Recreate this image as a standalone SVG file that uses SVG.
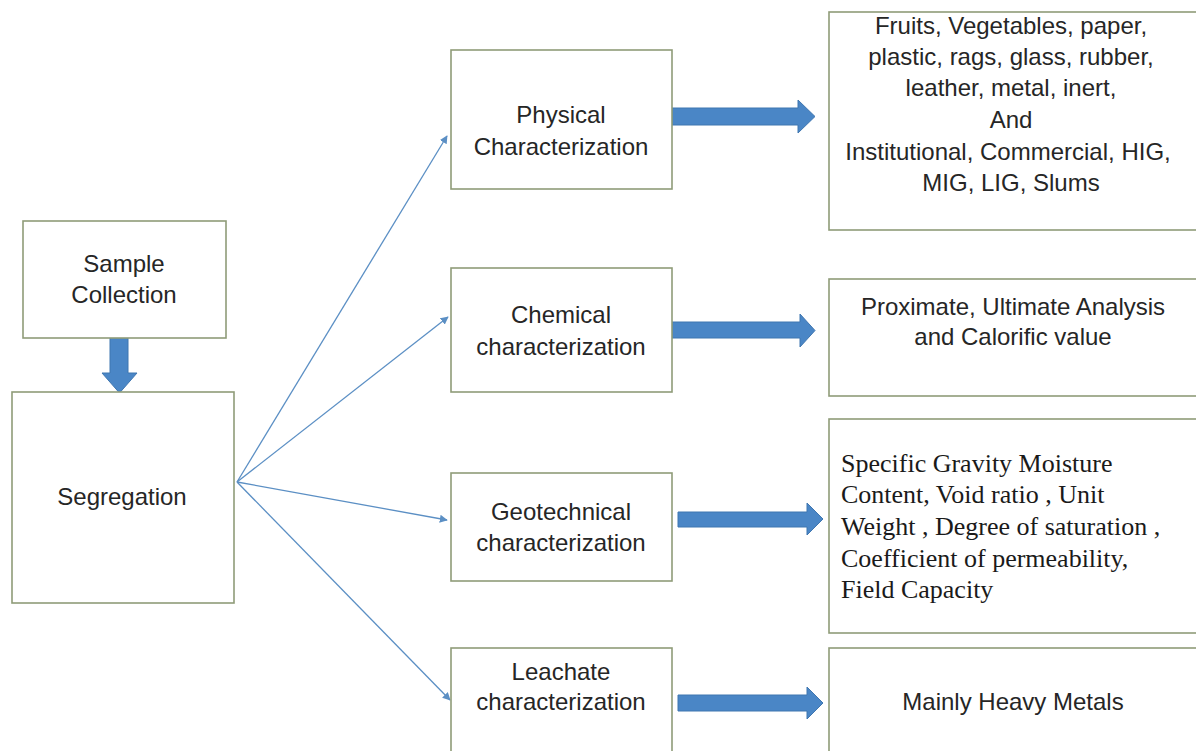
<svg xmlns="http://www.w3.org/2000/svg" width="1196" height="751" viewBox="0 0 1196 751">
<style>
.box{fill:#ffffff;stroke:#8f9c78;stroke-width:1.6}
.t{font-family:"Liberation Sans",Arial,sans-serif;font-size:24px;fill:#262626;text-anchor:middle}
.ts{font-family:"Liberation Serif","Times New Roman",serif;font-size:26px;fill:#1a1a1a}
.blk{fill:#4a86c6;stroke:#3f76b0;stroke-width:1}
.con{stroke:#5b8fc4;stroke-width:1.3;fill:none;marker-end:url(#ah)}
</style>
<defs>
<marker id="ah" viewBox="0 0 10 10" refX="9" refY="5" markerWidth="8" markerHeight="8" markerUnits="userSpaceOnUse" orient="auto">
<path d="M0,0 L10,5 L0,10 z" fill="#5b8fc4"/>
</marker>
</defs>
<rect width="1196" height="751" fill="#ffffff"/>
<g id="connectors">
<line class="con" x1="237" y1="482" x2="447" y2="136"/>
<line class="con" x1="237" y1="482" x2="448" y2="317"/>
<line class="con" x1="237" y1="482" x2="447" y2="520"/>
<line class="con" x1="237" y1="482" x2="450" y2="700"/>
<polygon class="blk" points="110,314 128,314 128,373 137,373 119.5,393 102,373 110,373"/>
<polygon class="blk" points="672,108 798,108 798,100 815,116.5 798,133 798,125 672,125"/>
<polygon class="blk" points="672,322 800,322 800,314 815,330.5 800,347 800,338 672,338"/>
<polygon class="blk" points="678,512 807,512 807,503 823,519 807,535 807,527 678,527"/>
<polygon class="blk" points="678,695 807,695 807,687 823,703 807,719 807,711 678,711"/>
</g>
<g id="sample">
<rect class="box" x="23" y="221" width="203" height="117"/>
<text class="t" x="124" y="272">Sample</text>
<text class="t" x="124" y="303">Collection</text>
</g>
<g id="segregation">
<rect class="box" x="12" y="392" width="222" height="211"/>
<text class="t" x="122" y="505">Segregation</text>
</g>
<g id="physical">
<rect class="box" x="451" y="50" width="221" height="139"/>
<text class="t" x="561" y="123">Physical</text>
<text class="t" x="561" y="155">Characterization</text>
</g>
<g id="chemical">
<rect class="box" x="451" y="268" width="221" height="124"/>
<text class="t" x="561" y="323">Chemical</text>
<text class="t" x="561" y="355">characterization</text>
</g>
<g id="geotechnical">
<rect class="box" x="451" y="473" width="221" height="108"/>
<text class="t" x="561" y="520">Geotechnical</text>
<text class="t" x="561" y="551">characterization</text>
</g>
<g id="leachate">
<rect class="box" x="451" y="648" width="221" height="110"/>
<text class="t" x="561" y="680">Leachate</text>
<text class="t" x="561" y="710">characterization</text>
</g>
<g id="physical-result">
<rect class="box" x="829" y="12" width="380" height="218"/>
<text class="t" x="1011" y="34">Fruits, Vegetables, paper,</text>
<text class="t" x="1011" y="65">plastic, rags, glass, rubber,</text>
<text class="t" x="1011" y="96">leather, metal, inert,</text>
<text class="t" x="1011" y="128">And</text>
<text class="t" x="1008" y="160">Institutional, Commercial, HIG,</text>
<text class="t" x="1011" y="191">MIG, LIG, Slums</text>
</g>
<g id="chemical-result">
<rect class="box" x="829" y="279" width="380" height="117"/>
<text class="t" x="1013" y="315">Proximate, Ultimate Analysis</text>
<text class="t" x="1013" y="345">and Calorific value</text>
</g>
<g id="geotechnical-result">
<rect class="box" x="829" y="419" width="380" height="214"/>
<text class="ts" x="841" y="472">Specific Gravity Moisture</text>
<text class="ts" x="841" y="503">Content, Void ratio , Unit</text>
<text class="ts" x="841" y="535">Weight , Degree of saturation ,</text>
<text class="ts" x="841" y="567">Coefficient of permeability,</text>
<text class="ts" x="841" y="598">Field Capacity</text>
</g>
<g id="leachate-result">
<rect class="box" x="829" y="648" width="380" height="110"/>
<text class="t" x="1013" y="710">Mainly Heavy Metals</text>
</g>
</svg>
